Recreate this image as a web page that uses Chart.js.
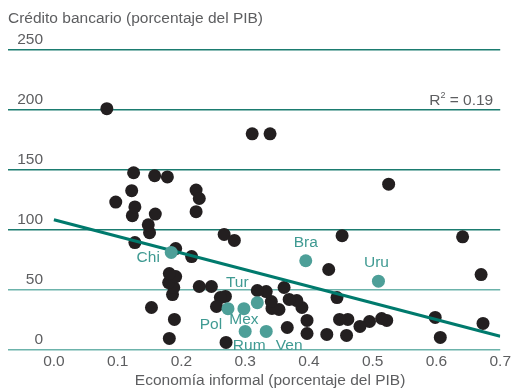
<!DOCTYPE html>
<html lang="es">
<head>
<meta charset="utf-8">
<title>Crédito bancario y economía informal</title>
<script src="https://cdn.jsdelivr.net/npm/chart.js@4"></script>
<style>
    html, body { margin: 0; padding: 0; background: #fff; }
</style>
</head>
<body>
<canvas id="creditChart" width="514" height="389"></canvas>
<script>
/*=============== CRÉDITO BANCARIO VS ECONOMÍA INFORMAL ===============*/

// Resto de países (economía informal, crédito bancario; % del PIB)
const otherX = [
    0.083, 0.311, 0.339, 0.525, 0.452, 0.641, 0.670, 0.673, 0.606, 0.598,
    0.522, 0.514, 0.495, 0.480, 0.459, 0.461, 0.448, 0.444, 0.431, 0.397,
    0.397, 0.428, 0.366, 0.361, 0.389, 0.381, 0.369, 0.353, 0.342, 0.341,
    0.333, 0.319, 0.270, 0.269, 0.261, 0.255, 0.247, 0.228, 0.181, 0.189,
    0.153, 0.186, 0.188, 0.180, 0.191, 0.181, 0.216, 0.191, 0.127, 0.150,
    0.148, 0.123, 0.127, 0.097, 0.122, 0.159, 0.125, 0.158, 0.178, 0.223,
    0.228, 0.223, 0.267, 0.283
];
const otherY = [
    201, 180, 180, 138, 95, 94, 62.5, 21.7, 10, 26.7,
    24.2, 25.8, 23.3, 19.2, 11.7, 25, 25, 43.3, 66.7, 24.2,
    13.3, 12.5, 18.3, 51.7, 35, 40.8, 41.7, 33.3, 34.2, 40,
    48.3, 49.2, 5.8, 44.2, 43.3, 35.8, 52.5, 52.5, 9.2, 25,
    35, 45.8, 51.7, 55.8, 60.8, 63.3, 77.5, 84.2, 89.2, 97.5,
    104, 111.7, 119, 123, 132.5, 113, 147.5, 145, 144, 133,
    126, 115, 96, 91
];

// Países destacados
const markedNames = ['Chi', 'Bra', 'Uru', 'Tur', 'Pol', 'Mex', 'Rum', 'Ven'];
const markedX = [0.184, 0.395, 0.509, 0.319, 0.273, 0.298, 0.300, 0.333];
const markedY = [81, 74, 57, 39, 34, 34, 15, 15];

// Recta de regresión
const fitX = [0, 0.7];
const fitY = [108.3, 11];
const rSquared = '0.19';

const xTicks = [0, 0.1, 0.2, 0.3, 0.4, 0.5, 0.6, 0.7];
const yTicks = [0, 50, 100, 150, 200, 250];

// Label placement around each highlighted dot
const labelOffsets = {
    Chi: [-23, 5], Bra: [0, -18], Uru: [-2, -18], Tur: [-20, -20],
    Pol: [-17, 16], Mex: [0, 11], Rum: [4, 14], Ven: [23, 14]
};

const FONT = '"Liberation Sans", Arial, sans-serif';
const FONT_SIZE = 15.5;
const TEXT = '#5d5e60';
const TEAL_TEXT = '#3f9a92';

const toPoints = (xs, ys) => xs.map((v, i) => ({ x: v, y: ys[i] }));

// Titles, y labels, R² and country names
const annotations = {
    id: 'annotations',
    afterDraw(chart) {
        const { ctx, chartArea, scales: { x, y } } = chart;
        ctx.save();
        ctx.font = `${FONT_SIZE}px ${FONT}`;
        ctx.fillStyle = TEXT;
        ctx.textBaseline = 'middle';

        ctx.textAlign = 'left';
        ctx.fillText('Crédito bancario (porcentaje del PIB)', 8, 19);

        ctx.textAlign = 'right';
        yTicks.forEach(v => ctx.fillText(String(v), 43, y.getPixelForValue(v) - 10));

        ctx.textAlign = 'center';
        ctx.fillText('Economía informal (porcentaje del PIB)',
            (x.getPixelForValue(0) + chartArea.right) / 2 - 7, 381);

        // R² = 0.19, right aligned
        const tail = ' = ' + rSquared;
        const right = chartArea.right - 7;
        const ry = 101;
        const tailW = ctx.measureText(tail).width;
        ctx.textAlign = 'left';
        ctx.fillText(tail, right - tailW, ry);
        ctx.font = `9px ${FONT}`;
        const supW = ctx.measureText('2').width;
        ctx.fillText('2', right - tailW - supW, ry - 5);
        ctx.font = `${FONT_SIZE}px ${FONT}`;
        const rW = ctx.measureText('R').width;
        ctx.fillText('R', right - tailW - supW - rW, ry);

        // Country names
        ctx.fillStyle = TEAL_TEXT;
        ctx.textAlign = 'center';
        const meta = chart.getDatasetMeta(2);
        meta.data.forEach((pt, i) => {
            const off = labelOffsets[markedNames[i]];
            ctx.fillText(markedNames[i], pt.x + off[0], pt.y + off[1]);
        });
        ctx.restore();
    }
};

document.addEventListener('DOMContentLoaded', () => {
    try {
        const ctx = document.getElementById('creditChart').getContext('2d');
        new Chart(ctx, {
            type: 'scatter',
            data: {
                datasets: [
                    {
                        label: 'Países',
                        data: toPoints(otherX, otherY),
                        backgroundColor: '#231f20',
                        borderWidth: 0,
                        pointRadius: 6.5,
                        order: 3
                    },
                    {
                        label: 'Tendencia',
                        data: toPoints(fitX, fitY),
                        showLine: true,
                        borderColor: '#007a6d',
                        borderWidth: 3,
                        pointRadius: 0,
                        fill: false,
                        order: 2
                    },
                    {
                        label: 'Destacados',
                        data: toPoints(markedX, markedY),
                        backgroundColor: '#4d9f98',
                        borderWidth: 0,
                        pointRadius: 6.5,
                        order: 1
                    }
                ]
            },
            options: {
                responsive: false,
                animation: false,
                layout: { padding: { left: 8, right: 12, top: 50, bottom: 15 } },
                plugins: {
                    legend: { display: false },
                    tooltip: { enabled: false }
                },
                scales: {
                    x: {
                        type: 'linear',
                        min: -0.072,
                        max: 0.7,
                        afterBuildTicks: scale => {
                            scale.ticks = xTicks.map(v => ({ value: v }));
                        },
                        ticks: {
                            font: { size: FONT_SIZE, family: FONT },
                            color: TEXT,
                            padding: 3,
                            maxRotation: 0,
                            autoSkip: false,
                            callback: v => Number(v).toFixed(1)
                        },
                        grid: { display: false, drawTicks: false },
                        border: { display: false }
                    },
                    y: {
                        min: 0,
                        max: 250,
                        afterBuildTicks: scale => {
                            scale.ticks = yTicks.map(v => ({ value: v }));
                        },
                        ticks: { display: false },
                        grid: {
                            color: c => (c.tick && c.tick.value <= 50 ? '#6cb3ab' : '#1b7c70'),
                            lineWidth: 1.5,
                            drawTicks: false
                        },
                        border: { display: false }
                    }
                }
            },
            plugins: [annotations]
        });
    } catch (error) {
        console.error('Error initializing credit chart:', error);
    }
});
</script>
</body>
</html>
